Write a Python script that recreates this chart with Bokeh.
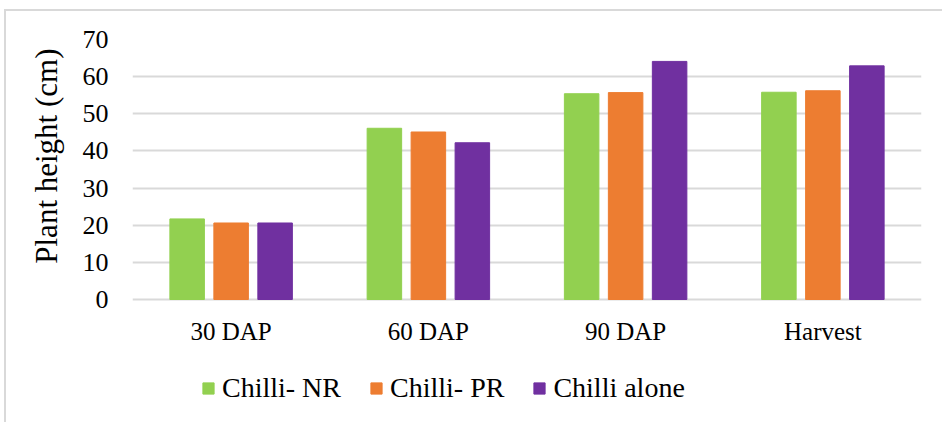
from bokeh.plotting import figure
from bokeh.models import ColumnDataSource, FactorRange, Range1d, Legend, LegendItem, Title
from bokeh.transform import dodge
from bokeh.embed import file_html
from bokeh.resources import INLINE

# Plant height (cm) of chilli at each growth stage
stages = ["30 DAP", "60 DAP", "90 DAP", "Harvest"]
chilli_nr = [21.7, 46.1, 55.4, 55.8]
chilli_pr = [20.6, 45.1, 55.7, 56.2]
chilli_alone = [20.6, 42.2, 64.1, 62.9]
y_ticks = [0, 10, 20, 30, 40, 50, 60, 70]

series_names = ["Chilli- NR", "Chilli- PR", "Chilli alone"]
colors = ["#92d050", "#ed7d31", "#7030a0"]

source = ColumnDataSource(dict(stage=stages, nr=chilli_nr, pr=chilli_pr, alone=chilli_alone))

SERIF = "Liberation Serif"

# The frame runs down to the bottom edge so the category axis (pinned at 0)
# and the legend both sit inside it; the lower limit only reserves that room.
Y_TOP = 70
Y_ROOM_BELOW = -33.65

p = figure(
    width=938, height=413,
    x_range=FactorRange(factors=stages, range_padding=0),
    y_range=Range1d(Y_ROOM_BELOW, Y_TOP),
    output_backend="svg", toolbar_location=None,
    min_border_left=126, min_border_right=23,
    min_border_top=28, min_border_bottom=0,
)
p.margin = (9, 0, 0, 4)
p.styles = {"border-top": "2px solid #d9d9d9", "border-left": "2px solid #d9d9d9"}
p.outline_line_color = None
p.background_fill_color = "white"
p.border_fill_color = "white"

offsets = [-0.223, 0.0, 0.223]
fields = ["nr", "pr", "alone"]
renderers = []
for field, off, col in zip(fields, offsets, colors):
    r = p.vbar(x=dodge("stage", off, range=p.x_range), top=field, width=0.175,
               source=source, fill_color=col, line_color=col, line_width=1)
    renderers.append(r)

# grid
p.xgrid.grid_line_color = None
p.ygrid.grid_line_color = "#d9d9d9"
p.ygrid.grid_line_width = 2
p.yaxis.ticker = y_ticks

# axes
p.xaxis.fixed_location = 0
for ax in (p.xaxis[0], p.yaxis[0]):
    ax.axis_line_color = None
    ax.major_tick_line_color = None
    ax.minor_tick_line_color = None
    ax.major_label_text_font = SERIF
    ax.major_label_text_color = "#000000"
p.xaxis.major_label_text_font_size = "25px"
p.yaxis.major_label_text_font_size = "26px"
p.xaxis.major_label_standoff = 12
p.yaxis.major_label_standoff = 18

# y-axis title, anchored near the top of the 0-70 band
ytitle = Title(text="Plant height (cm)", text_font=SERIF, text_font_size="31px",
               text_font_style="normal", text_color="#000000", align="right",
               offset=9, standoff=32)
p.add_layout(ytitle, "left")

legend = Legend(
    items=[LegendItem(label=n, renderers=[r]) for n, r in zip(series_names, renderers)],
    orientation="horizontal",
    location=(69, 20),
    glyph_width=14, glyph_height=14,
    label_standoff=7, spacing=28,
    border_line_color=None, background_fill_alpha=0,
    padding=0, margin=0,
)
legend.label_text_font = SERIF
legend.label_text_font_size = "28px"
legend.label_text_color = "#000000"
p.add_layout(legend)

open("out.html", "w").write(file_html(p, INLINE))
